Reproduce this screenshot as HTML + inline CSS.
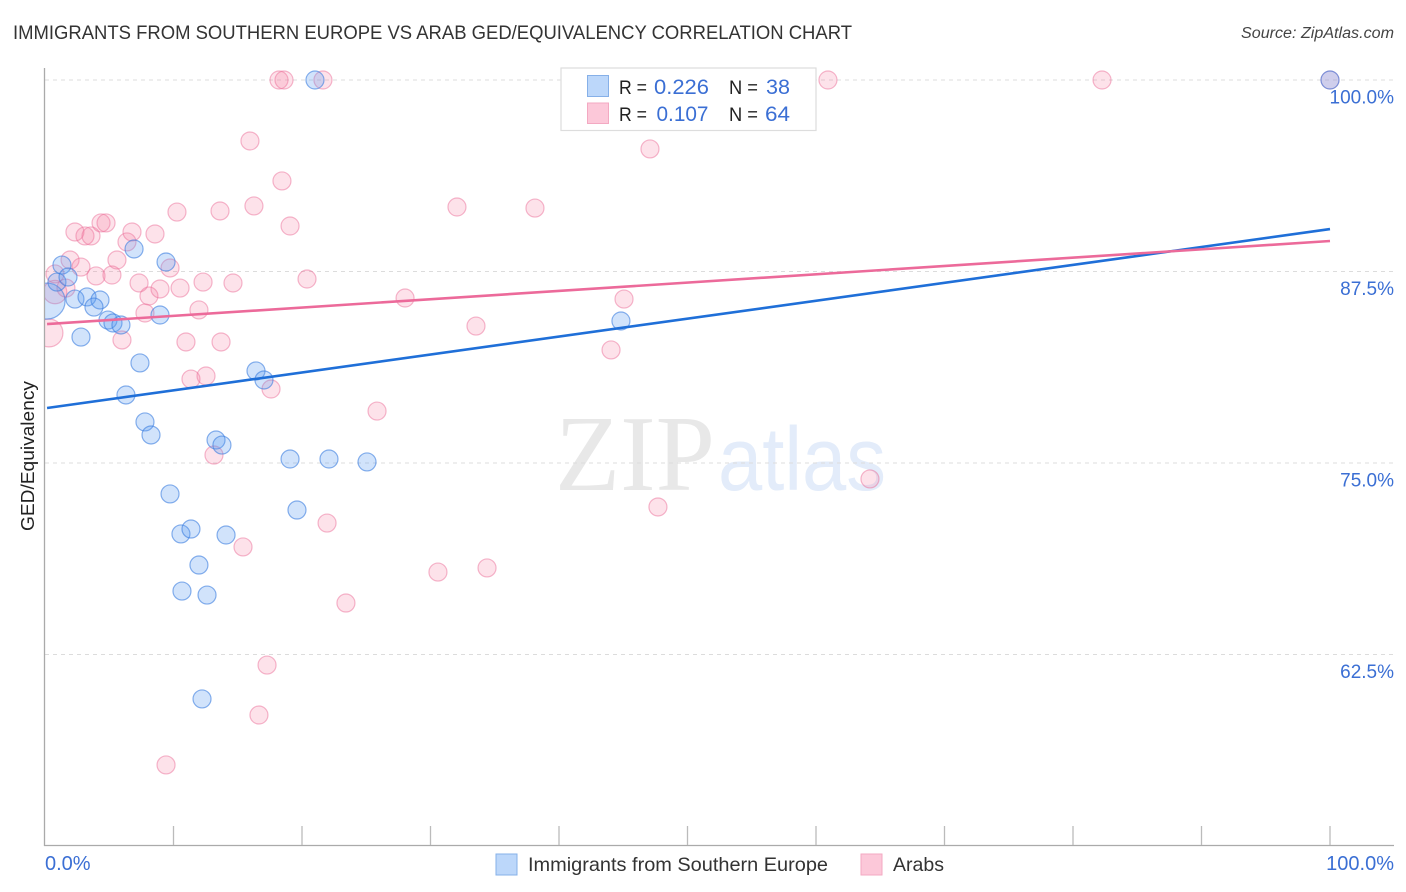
<!DOCTYPE html>
<html lang="en">
<head>
<meta charset="utf-8">
<title>Immigrants from Southern Europe vs Arab GED/Equivalency Correlation Chart</title>
<style>
html,body{margin:0;padding:0;background:#fff;}
svg{display:block;font-family:"Liberation Sans",sans-serif;}
</style>
</head>
<body>
<svg id="chart" xmlns="http://www.w3.org/2000/svg" width="1406" height="892" viewBox="0 0 1406 892">
  <defs>
    <clipPath id="plot-clip"><rect x="45" y="60" width="1361" height="785"/></clipPath>
  </defs>
  <text x="13" y="39" font-size="19" fill="#333" textLength="839" lengthAdjust="spacingAndGlyphs">IMMIGRANTS FROM SOUTHERN EUROPE VS ARAB GED/EQUIVALENCY CORRELATION CHART</text>
  <text x="1241" y="38" font-size="15.5" font-style="italic" fill="#444" textLength="153" lengthAdjust="spacingAndGlyphs">Source: ZipAtlas.com</text>

  <g>
    <text x="555" y="490" font-family="'Liberation Serif',serif" font-size="108" fill="#e8e8e8" textLength="160" lengthAdjust="spacingAndGlyphs">ZIP</text>
    <text x="718" y="490" font-size="90" fill="#e3ecfa" textLength="168" lengthAdjust="spacingAndGlyphs">atlas</text>
  </g>

  <g id="grid"></g>
  <g id="axes">
    <line x1="44.5" y1="68" x2="44.5" y2="846" stroke="#aaa" stroke-width="1.3"/>
    <line x1="44" y1="845.5" x2="1394" y2="845.5" stroke="#aaa" stroke-width="1.3"/>
  </g>
  <g id="x-ticks"></g>
  <g id="y-labels"></g>
  <g id="x-labels"></g>

  <g clip-path="url(#plot-clip)">
    <g id="arab-points"></g>
    <g id="imm-points"></g>
    <g id="trend-lines"></g>
  </g>

  <text transform="translate(34,456) rotate(-90)" font-size="18" fill="#222" text-anchor="middle" textLength="150" lengthAdjust="spacingAndGlyphs">GED/Equivalency</text>

  <g>
    <rect x="561" y="68" width="255" height="62.5" fill="#fff" stroke="#ddd" stroke-width="1.2"/>
    <rect x="587.5" y="75.5" width="21" height="21" fill="#bcd7fa" stroke="#86b0e8" stroke-width="1"/>
    <rect x="587.5" y="103" width="21" height="20.5" fill="#fcc8d9" stroke="#f3a9c2" stroke-width="1"/>
    <text x="619" y="94" font-size="19.5" fill="#222" textLength="28" lengthAdjust="spacingAndGlyphs">R =</text>
    <text x="654" y="94" font-size="21.5" fill="#3b6fd4" textLength="55" lengthAdjust="spacingAndGlyphs">0.226</text>
    <text x="729" y="94" font-size="19.5" fill="#222" textLength="29" lengthAdjust="spacingAndGlyphs">N =</text>
    <text x="766" y="94" font-size="21.5" fill="#3b6fd4" textLength="24" lengthAdjust="spacingAndGlyphs">38</text>
    <text x="619" y="121" font-size="19.5" fill="#222" textLength="28" lengthAdjust="spacingAndGlyphs">R =</text>
    <text x="656.5" y="121" font-size="21.5" fill="#3b6fd4" textLength="52" lengthAdjust="spacingAndGlyphs">0.107</text>
    <text x="729" y="121" font-size="19.5" fill="#222" textLength="29" lengthAdjust="spacingAndGlyphs">N =</text>
    <text x="765" y="121" font-size="21.5" fill="#3b6fd4" textLength="25" lengthAdjust="spacingAndGlyphs">64</text>
  </g>

  <g>
    <g>
      <rect x="496" y="854" width="21" height="21" fill="#bcd7fa" stroke="#86b0e8" stroke-width="1"/>
      <text x="528" y="871" font-size="19.5" fill="#333" textLength="300" lengthAdjust="spacingAndGlyphs">Immigrants from Southern Europe</text>
    </g>
    <g>
      <rect x="861" y="854" width="21" height="21" fill="#fcc8d9" stroke="#f3a9c2" stroke-width="1"/>
      <text x="893" y="871" font-size="19.5" fill="#333" textLength="51" lengthAdjust="spacingAndGlyphs">Arabs</text>
    </g>
  </g>
</svg>

<script>
const gridValues = [100, 87.5, 75, 62.5];
const yTickLabels = ["100.0%", "87.5%", "75.0%", "62.5%"];
const xTickValues = [10, 20, 30, 40, 50, 60, 70, 80, 90, 100];
const xEndValues = [0, 100];
const xEndLabels = ["0.0%", "100.0%"];

const immigrantsX = [0.16,0.93,1.32,1.79,2.33,3.27,4.28,3.81,4.90,5.29,5.91,2.80,6.93,9.42,8.95,7.39,6.30,16.42,17.04,7.78,8.25,13.31,13.77,19.07,22.10,25.06,9.73,10.58,11.36,14.09,19.61,11.98,10.66,12.61,12.22,21.01,100,44.82];
const immigrantsY = [85.57,86.81,87.92,87.14,85.70,85.84,85.64,85.18,84.33,84.14,84.01,83.22,88.97,88.12,84.66,81.53,79.44,81.01,80.42,77.68,76.83,76.50,76.17,75.26,75.26,75.07,72.98,70.37,70.69,70.30,71.93,68.34,66.64,66.38,59.60,100,100,84.27];
const immigrantsWeight = [4,1,1,1,1,1,1,1,1,1,1,1,1,1,1,1,1,1,1,1,1,1,1,1,1,1,1,1,1,1,1,1,1,1,1,1,1,1];

const arabsX = [0.31,0.78,0.78,1.63,1.95,2.80,3.97,5.21,5.60,6.38,6.77,8.56,10.27,13.62,16.26,19.07,2.33,3.11,3.58,4.36,4.75,7.32,8.09,8.95,10.51,12.30,14.63,9.73,7.78,11.98,5.99,10.97,13.70,11.36,12.53,17.59,18.21,18.60,21.63,60.93,82.26,100,15.95,18.44,47.08,32.06,38.13,20.39,28.02,45.06,33.54,44.05,25.84,13.15,64.20,47.70,21.95,15.41,30.58,34.40,23.42,17.28,16.65,9.42];
const arabsY = [83.49,86.16,87.34,86.42,88.25,87.79,87.21,87.27,88.25,89.43,90.08,89.95,91.38,91.45,91.78,90.47,90.08,89.82,89.82,90.67,90.67,86.75,85.90,86.36,86.42,86.81,86.75,87.73,84.79,84.99,83.03,82.90,82.90,80.48,80.68,79.83,100,100,100,100,100,100,96.02,93.41,95.50,91.71,91.64,87.01,85.77,85.70,83.94,82.38,78.39,75.52,73.96,72.13,71.08,69.52,67.88,68.15,65.86,61.81,58.55,55.29];
const arabsWeight = [2.4,1.7,1,1,1,1,1,1,1,1,1,1,1,1,1,1,1,1,1,1,1,1,1,1,1,1,1,1,1,1,1,1,1,1,1,1,1,1,1,1,1,1,1,1,1,1,1,1,1,1,1,1,1,1,1,1,1,1,1,1,1,1,1,1];

const immigrantsTrendX = [0.16, 100];
const immigrantsTrendY = [78.59, 90.27];
const arabsTrendX = [0.16, 100];
const arabsTrendY = [84.07, 89.49];

const NS = 'http://www.w3.org/2000/svg';
function xScale(v) { return 45 + v * 12.85; }
function yScale(v) { return 80 + (100 - v) * 15.32; }
function radius(w) { return 9 * Math.sqrt(w); }
function make(tag, attrs, parent) {
  const el = document.createElementNS(NS, tag);
  for (const k in attrs) el.setAttribute(k, attrs[k]);
  parent.appendChild(el);
  return el;
}

const gridG = document.getElementById('grid');
const yLabelG = document.getElementById('y-labels');
gridValues.forEach(function (v, i) {
  const line = make('line', {x1: 45, x2: 1394, y1: yScale(v), y2: yScale(v), stroke: '#dcdcdc', 'stroke-width': 1, 'stroke-dasharray': '4 4'}, gridG);
  
  
  const label = make('text', {x: 1394, y: yScale(v) + 23.5, 'font-size': 19, fill: '#3b6fd4', 'text-anchor': 'end'}, yLabelG);
  label.textContent = yTickLabels[i];
  
  
});

const xTickG = document.getElementById('x-ticks');
xTickValues.forEach(function (v) {
  const tick = make('line', {x1: xScale(v), x2: xScale(v), y1: 826, y2: 845, stroke: '#bbb', 'stroke-width': 1.3}, xTickG);
  
  
});

const xLabelG = document.getElementById('x-labels');
xEndValues.forEach(function (v, i) {
  const anchorX = i === 0 ? xScale(v) : 1394;
  const label = make('text', {x: anchorX, y: 870, 'font-size': 20, fill: '#3b6fd4', 'text-anchor': i === 0 ? 'start' : 'end'}, xLabelG);
  label.textContent = xEndLabels[i];
  
  
});

const arabG = document.getElementById('arab-points');
arabsX.forEach(function (v, i) {
  const c = make('circle', {cx: xScale(v), cy: yScale(arabsY[i]), r: radius(arabsWeight[i]), fill: '#f7799f', 'fill-opacity': 0.22, stroke: '#ec6f9a', 'stroke-opacity': 0.5, 'stroke-width': 1.2}, arabG);
  
  
});

const immG = document.getElementById('imm-points');
immigrantsX.forEach(function (v, i) {
  const c = make('circle', {cx: xScale(v), cy: yScale(immigrantsY[i]), r: radius(immigrantsWeight[i]), fill: '#5b9bf0', 'fill-opacity': 0.28, stroke: '#3b7de0', 'stroke-opacity': 0.6, 'stroke-width': 1.2}, immG);
  
  
});

const trendG = document.getElementById('trend-lines');
const blueTrend = make('line', {x1: xScale(immigrantsTrendX[0]), y1: yScale(immigrantsTrendY[0]), x2: xScale(immigrantsTrendX[1]), y2: yScale(immigrantsTrendY[1]), stroke: '#1f6fd8', 'stroke-width': 2.6}, trendG);


const pinkTrend = make('line', {x1: xScale(arabsTrendX[0]), y1: yScale(arabsTrendY[0]), x2: xScale(arabsTrendX[1]), y2: yScale(arabsTrendY[1]), stroke: '#ec6a9a', 'stroke-width': 2.6}, trendG);


</script>
</body>
</html>
